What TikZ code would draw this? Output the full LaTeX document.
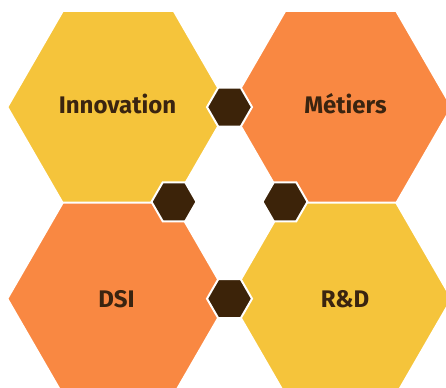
\documentclass[tikz,border=0pt]{standalone}
\usepackage{fontspec}
\setmainfont{Fira Sans}
\usetikzlibrary{shapes.geometric}

\definecolor{hexyellow}{HTML}{F5C43B}
\definecolor{hexorange}{HTML}{F98842}
\definecolor{hexbrown}{HTML}{3C2309}
\definecolor{labelbrown}{HTML}{3A2410}

\tikzset{
	bighex/.style={regular polygon, regular polygon sides=6, minimum size=166.5pt, inner sep=0pt, draw=white, line width=1.5pt},
	smallhex/.style={regular polygon, regular polygon sides=6, minimum size=33.75pt, inner sep=0pt, fill=hexbrown, draw=white, line width=1.5pt},
	hexlabel/.style={inner sep=0pt, text=labelbrown, text height=12.4pt, text depth=0pt, font=\fontsize{18}{20}\selectfont\bfseries},
}

\begin{document}
\begin{tikzpicture}[x=0.75pt,y=0.75pt,yscale=-1,xscale=1]
		\useasboundingbox (0,0) rectangle (446,388);
		\clip (0,0) rectangle (446,388);
		
		%Big hexagons
		\node [bighex, fill=hexyellow] (innovation) at (118.3,107.1) {};
		\node [bighex, fill=hexorange] (metiers) at (340.7,107.1) {};
		\node [bighex, fill=hexorange] (dsi) at (118.3,298.7) {};
		\node [bighex, fill=hexyellow] (rd) at (340.7,298.7) {};
		
		%Small hexagons
		\node [smallhex] (joinA) at (229.5,107.1) {};
		\node [smallhex] (joinB) at (174,201.8) {};
		\node [smallhex] (joinC) at (285,201.8) {};
		\node [smallhex] (joinD) at (229.5,298.7) {};
		
		% Text Node
		\node [hexlabel] (innovationtext) at (117.5,105.5) {Innovation};
		% Text Node
		\node [hexlabel] (metierstext) at (345.5,105.5) {Métiers};
		% Text Node
		\node [hexlabel] (dsitext) at (116.5,299) {DSI};
		% Text Node
		\node [hexlabel] (rdtext) at (345,299) {R\&D};
	\end{tikzpicture}
\end{document}
